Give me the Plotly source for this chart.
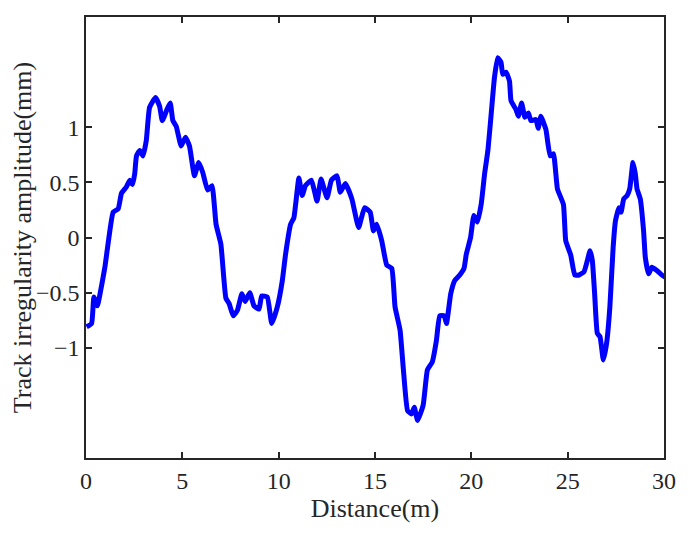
import plotly.graph_objects as go

# track irregularity
distance = [
    0.03, 0.29, 0.41, 0.59, 0.72, 0.98, 1.15, 1.41, 1.67, 1.84, 2.10, 2.27, 2.41, 2.53, 2.62,
    2.79, 2.96, 3.13, 3.30, 3.61, 3.82, 3.96, 4.20, 4.37, 4.51, 4.68, 4.94, 5.16, 5.37, 5.63,
    5.85, 6.06, 6.31, 6.54, 6.75, 7.00, 7.26, 7.43, 7.64, 7.86, 8.09, 8.26, 8.50, 8.72, 8.98,
    9.12, 9.41, 9.64, 9.93, 10.19, 10.36, 10.62, 10.79, 11.05, 11.22, 11.39, 11.70, 11.99,
    12.20, 12.51, 12.74, 13.03, 13.20, 13.46, 13.80, 14.15, 14.46, 14.75, 14.92, 15.09, 15.35,
    15.61, 15.87, 16.04, 16.30, 16.47, 16.69, 16.90, 17.04, 17.21, 17.50, 17.72, 17.97, 18.19,
    18.36, 18.59, 18.71, 18.93, 19.14, 19.40, 19.62, 19.74, 19.96, 20.13, 20.31, 20.51, 20.69,
    20.86, 21.03, 21.20, 21.37, 21.54, 21.63, 21.80, 21.98, 22.06, 22.32, 22.44, 22.61, 22.78,
    22.96, 23.09, 23.35, 23.47, 23.61, 23.87, 24.09, 24.26, 24.47, 24.78, 24.90, 25.16, 25.37,
    25.59, 25.85, 26.02, 26.16, 26.28, 26.40, 26.54, 26.68, 26.85, 27.02, 27.19, 27.36, 27.48,
    27.66, 27.77, 27.91, 28.08, 28.22, 28.39, 28.51, 28.60, 28.77, 28.94, 29.03, 29.20, 29.37,
    29.63, 29.89, 30.06,
]
amplitude = [
    -0.81, -0.78, -0.54, -0.62, -0.52, -0.27, -0.05, 0.23, 0.26, 0.40, 0.46, 0.52, 0.48, 0.58, 0.74,
    0.79, 0.74, 0.88, 1.18, 1.27, 1.19, 1.06, 1.16, 1.22, 1.06, 1.01, 0.83, 0.91, 0.83, 0.56,
    0.68, 0.59, 0.43, 0.47, 0.12, -0.06, -0.55, -0.60, -0.71, -0.66, -0.51, -0.58, -0.50, -0.62, -0.65,
    -0.53, -0.54, -0.78, -0.63, -0.39, -0.15, 0.12, 0.18, 0.54, 0.38, 0.47, 0.52, 0.33,
    0.53, 0.36, 0.52, 0.56, 0.41, 0.49, 0.35, 0.09, 0.27, 0.23, 0.06, 0.12, -0.03,
    -0.25, -0.28, -0.63, -0.84, -1.19, -1.57, -1.60, -1.54, -1.66, -1.52, -1.20, -1.13, -0.93,
    -0.71, -0.71, -0.78, -0.51, -0.39, -0.34, -0.28, -0.15, 0.00, 0.20, 0.14, 0.30, 0.58,
    0.79, 1.12, 1.45, 1.63, 1.59, 1.48, 1.50, 1.42, 1.24, 1.16, 1.10, 1.22, 1.09,
    1.13, 1.06, 1.07, 0.99, 1.10, 0.98, 0.74, 0.76, 0.44, 0.30, -0.03, -0.16, -0.34,
    -0.34, -0.31, -0.21, -0.12, -0.21, -0.51, -0.87, -0.90, -1.11, -0.96, -0.63, -0.09, 0.15,
    0.27, 0.23, 0.35, 0.38, 0.44, 0.68, 0.58, 0.44, 0.35, 0.06, -0.18, -0.33, -0.27,
    -0.30, -0.34, -0.36,
]

x_ticks = [0, 5, 10, 15, 20, 25, 30]
y_ticks = [-1, -0.5, 0, 0.5, 1]
y_tick_labels = ["\u22121", "\u22120.5", "0", "0.5", "1"]

axis_col = "#262626"
font_fam = "Liberation Serif, Times New Roman, serif"

fig = go.Figure()
fig.add_trace(
    go.Scatter(
        x=distance,
        y=amplitude,
        mode="lines",
        line=dict(color="#0000FF", width=5, shape="spline", smoothing=0.4),
        showlegend=False,
    )
)

axis_common = dict(
    showgrid=False,
    zeroline=False,
    showline=True,
    linecolor=axis_col,
    linewidth=1.5,
    mirror="ticks",
    ticks="inside",
    ticklen=6,
    tickwidth=1.5,
    tickcolor=axis_col,
    tickfont=dict(family=font_fam, size=24, color=axis_col),
)

fig.update_xaxes(
    range=[0, 30],
    tickvals=x_ticks,
    title=dict(text="Distance(m)", font=dict(family=font_fam, size=26, color=axis_col), standoff=0),
    **axis_common,
)
fig.update_yaxes(
    range=[-2, 2],
    tickvals=y_ticks,
    ticktext=y_tick_labels,
    title=dict(text="Track irregularity amplitude(mm)", font=dict(family=font_fam, size=26, color=axis_col), standoff=2),
    **axis_common,
)

# page body adds ~8px, so the figure is a bit smaller than the window
fig.update_layout(
    width=675,
    height=519,
    margin=dict(l=78, r=16, t=7, b=69),
    plot_bgcolor="white",
    paper_bgcolor="white",
)

fig.write_html("out.html")
